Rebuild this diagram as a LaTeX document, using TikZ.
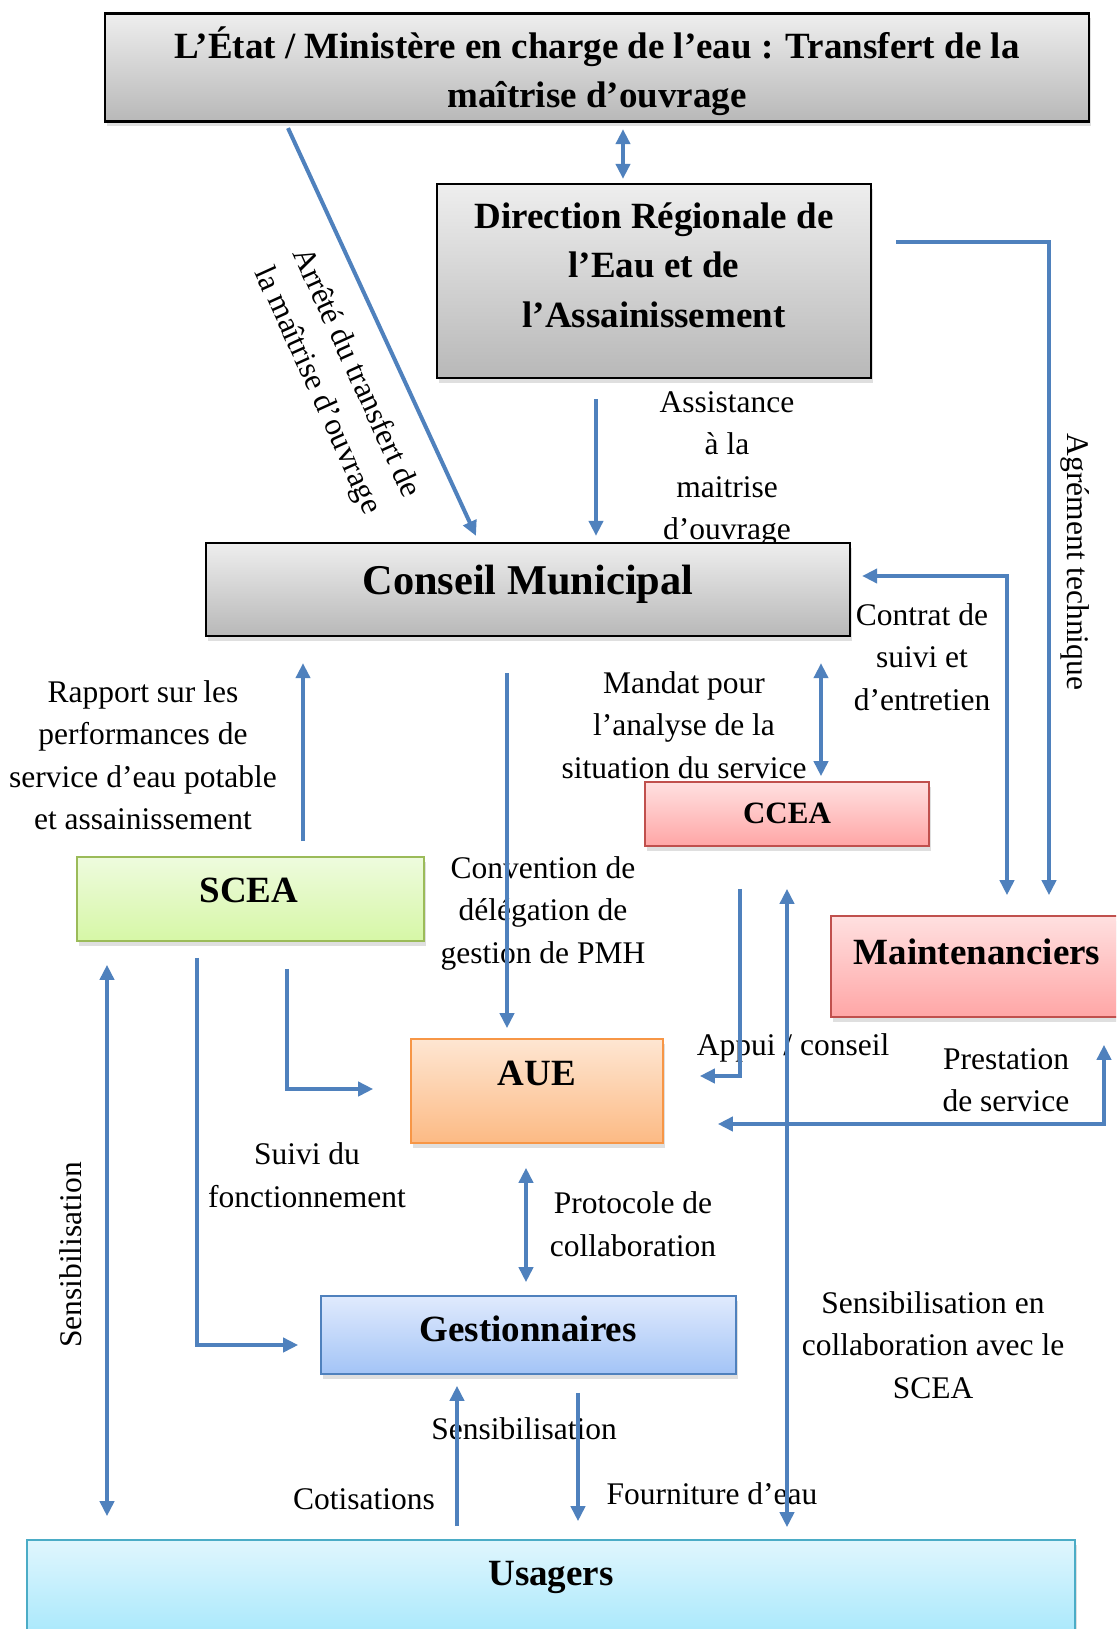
\documentclass[tikz,border=0pt]{standalone}
\usepackage{fontspec}
\setmainfont{Liberation Serif}
\usetikzlibrary{arrows.meta,shadows,calc}

\definecolor{flow}{RGB}{79,129,189}
\definecolor{grayT}{RGB}{238,238,238}
\definecolor{grayB}{RGB}{184,184,184}
\definecolor{greenT}{RGB}{238,251,222}
\definecolor{greenB}{RGB}{214,247,166}
\definecolor{greenD}{RGB}{155,187,89}
\definecolor{redT}{RGB}{255,224,224}
\definecolor{redB}{RGB}{255,166,166}
\definecolor{redD}{RGB}{192,80,77}
\definecolor{orangeT}{RGB}{254,230,210}
\definecolor{orangeB}{RGB}{252,186,132}
\definecolor{orangeD}{RGB}{247,150,70}
\definecolor{blueT}{RGB}{224,234,253}
\definecolor{blueB}{RGB}{163,196,246}
\definecolor{blueD}{RGB}{79,129,189}
\definecolor{cyanT}{RGB}{224,246,253}
\definecolor{cyanB}{RGB}{160,230,252}
\definecolor{cyanD}{RGB}{75,172,198}

\tikzset{
  tip/.tip={Triangle[length=15pt,width=14pt]},
  arr/.style={draw=flow, line width=4pt, -tip},
  arrboth/.style={draw=flow, line width=4pt, tip-tip},
  box/.style={rectangle, inner sep=0pt, line width=1.6pt,
    drop shadow={shadow xshift=1.5pt, shadow yshift=-5pt, opacity=0.25}},
  graybox/.style={box, draw=black, line width=2.2pt, top color=grayT, bottom color=grayB},
  greenbox/.style={box, draw=greenD, top color=greenT, bottom color=greenB},
  redbox/.style={box, draw=redD, top color=redT, bottom color=redB},
  orangebox/.style={box, draw=orangeD, top color=orangeT, bottom color=orangeB},
  bluebox/.style={box, draw=blueD, top color=blueT, bottom color=blueB},
  cyanbox/.style={box, draw=cyanD, top color=cyanT, bottom color=cyanB},
  title/.style={font=\fontsize{37}{49.5}\selectfont\bfseries, align=center, anchor=base, inner sep=0pt},
  lbl/.style={font=\fontsize{31.5}{42.5}\selectfont, align=center, inner sep=0pt},
}

\begin{document}
\begin{tikzpicture}[x=1pt,y=-1pt]
\useasboundingbox (0,0) rectangle (1116,1629);
\clip (0,0) rectangle (1116,1629);
\fill[white] (0,0) rectangle (1116,1629);

% relation labels
\node[lbl, rotate=-65.6] (l-arrete) at (336,382) {Arrêté du transfert de\\la maîtrise d’ouvrage};
\node[lbl] (l-assist) at (727,469) {Assistance\\à la\\maitrise\\d’ouvrage};
\node[lbl, rotate=-90] (l-agrement) at (1075,562) {Agrément technique};
\node[lbl] (l-contrat) at (922,657) {Contrat de\\suivi et\\d’entretien};
\node[lbl] (l-rapport) at (143,755) {Rapport sur les\\performances de\\service d’eau potable\\et assainissement};
\node[lbl] (l-mandat) at (684,725) {Mandat pour\\l’analyse de la\\situation du service};
\node[lbl] (l-convention) at (543,913) {Convention de\\délégation de\\gestion de PMH};
\node[lbl] (l-appui) at (793,1048) {Appui / conseil};
\node[lbl] (l-prestation) at (1006,1080) {Prestation\\de service};
\node[lbl] (l-suivi) at (307,1175) {Suivi du\\fonctionnement};
\node[lbl] (l-protocole) at (633,1224) {Protocole de\\collaboration};
\node[lbl] (l-sensiscea) at (933,1345) {Sensibilisation en\\collaboration avec le\\SCEA};
\node[lbl, rotate=90] (l-sensiG) at (71,1255) {Sensibilisation};
\node[lbl] (l-sensiB) at (524,1429) {Sensibilisation};
\node[lbl] (l-cotis) at (364,1499) {Cotisations};
\node[lbl] (l-fourn) at (712,1494) {Fourniture d’eau};

% actors
\node[graybox, minimum width=984pt, minimum height=108pt] (etat) at (597,67.5) {};
\node[graybox, minimum width=434pt, minimum height=194pt] (drea) at (654,281) {};
\node[graybox, minimum width=644pt, minimum height=93pt] (cm) at (528,589.5) {};
\node[greenbox, minimum width=347pt, minimum height=84pt] (scea) at (250.5,899) {};
\node[redbox, minimum width=284pt, minimum height=64pt] (ccea) at (787,814) {};
\node[redbox, minimum width=299pt, minimum height=101pt] (maint) at (980.5,966.5) {};
\node[orangebox, minimum width=252pt, minimum height=104pt] (aue) at (537,1091) {};
\node[bluebox, minimum width=415pt, minimum height=78pt] (gest) at (528.5,1335) {};
\node[cyanbox, minimum width=1048pt, minimum height=110pt] (usag) at (551,1595) {};

% actor names (base anchor sits on the last line)
\node[title] (t-etat) at (597,108) {L’État / Ministère en charge de l’eau : Transfert de la\\maîtrise d’ouvrage};
\node[title] (t-drea) at (654,327) {Direction Régionale de\\l’Eau et de\\l’Assainissement};
\node[title, font=\fontsize{42.4}{50}\selectfont\bfseries] (t-cm) at (528,594) {Conseil Municipal};
\node[title] (t-scea) at (249,902) {SCEA};
\node[title, font=\fontsize{31}{40}\selectfont\bfseries] (t-ccea) at (787,823) {CCEA};
\node[title] (t-maint) at (977,964) {Maintenanciers};
\node[title] (t-aue) at (537,1085) {AUE};
\node[title] (t-gest) at (528,1341) {Gestionnaires};
\node[title] (t-usag) at (551,1585) {Usagers};

% flows
\draw[arr] ($(etat.south)+(-309,5.5)$) -- ($(cm.north)+(-52,-6)$);
\draw[arrboth] ($(etat.south)+(26,6.5)$) -- ($(drea.north)+(-31,-4)$);
\draw[arr] ($(drea.south)+(-58,20)$) -- ($(cm.north)+(68,-6)$);
\draw[arr] ($(drea.north east)+(24,59)$) -| ($(maint.north)+(68.5,-20)$);
\draw[arrboth] ($(maint.north)+(26.5,-20)$) |- ($(cm.east)+(11,-13.5)$);
\draw[arrboth] ($(cm.south)+(293,26)$) -- ($(ccea.north)+(34,-5)$);
\draw[arr] ($(cm.south)+(-21,36)$) -- ($(aue.north)+(-30,-10)$);
\draw[arr] ($(scea.north)+(52.5,-15)$) -- ($(cm.south)+(-225,26)$);
\draw[arr] ($(scea.south)+(36.5,27)$) |- ($(aue.west)+(-37,-2)$);
\draw[arr] ($(scea.south)+(-53.5,16)$) |- ($(gest.west)+(-22,10)$);
\draw[arrboth] ($(scea.south)+(-143.5,23)$) -- ($(usag.north)+(-444,-23)$);
\draw[arr] ($(ccea.south)+(-47,42)$) |- ($(aue.east)+(36,-15)$);
\draw[arrboth] ($(ccea.south)+(0,42)$) -- ($(usag.north)+(236,-12)$);
\draw[arrboth] ($(maint.south)+(123.5,27)$) |- ($(aue.east)+(54,33)$);
\draw[arrboth] ($(aue.south)+(-11,24)$) -- ($(gest.north)+(-2.5,-13)$);
\draw[arr] ($(usag.north)+(-94,-13)$) -- ($(gest.south)+(-71.5,11)$);
\draw[arr] ($(gest.south)+(49.5,18)$) -- ($(usag.north)+(27,-18)$);
\end{tikzpicture}
\end{document}
